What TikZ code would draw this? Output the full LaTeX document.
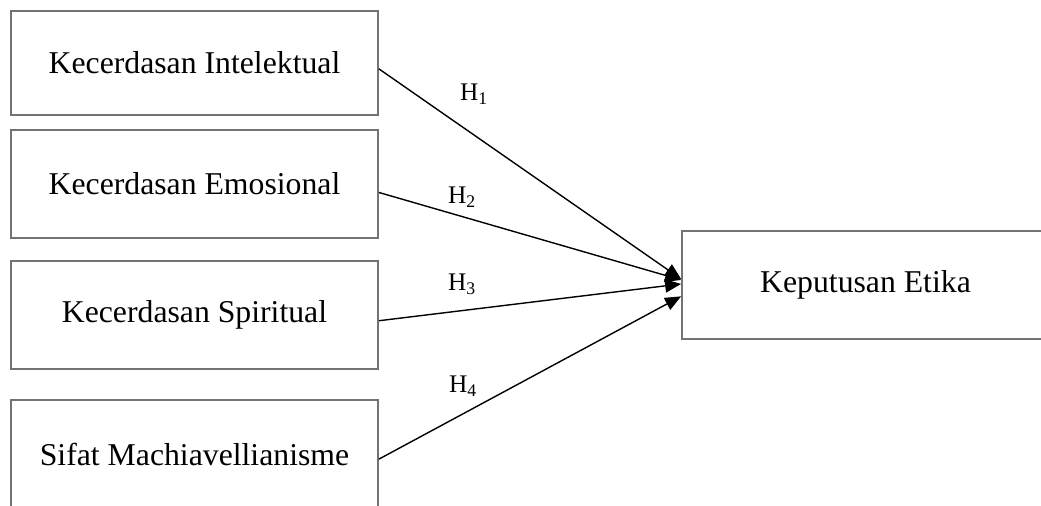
\documentclass[tikz,border=0pt]{standalone}
\usepackage{fontspec}
\setmainfont{Liberation Serif}
\usetikzlibrary{positioning, arrows.meta}

\begin{document}
\begin{tikzpicture}
[
x=0.75pt, y=-0.75pt,
>={Triangle[length=12pt, width=10pt]},
var-box/.style={rectangle, draw=black!55, line width=1.6pt, minimum width=275pt, minimum height=81pt, font=\fontsize{23.8}{28}\selectfont},
hyp-text/.style={font=\fontsize{19}{22}\selectfont},
hyp-line/.style={->, line width=1.05pt}
]
\clip (0,0) rectangle (1041,506);
\node (kec-int)  [var-box, minimum height=78pt]    at (194.5,63) {Kecerdasan Intelektual};
\node (kec-emo)  [var-box, below = 9.5pt of kec-int] {Kecerdasan Emosional};
\node (kec-spi)  [var-box, below = 16pt of kec-emo]  {Kecerdasan Spiritual};
\node (sif-mac)  [var-box, below = 21.5pt of kec-spi] {Sifat Machiavellianisme};
\node (kep-eti)  [var-box]                          at (865.5,285) {Keputusan Etika};
\node (hyp-1)    [hyp-text] at (474,94)  {H\textsubscript{1}};
\node (hyp-2)    [hyp-text] at (462,197) {H\textsubscript{2}};
\node (hyp-3)    [hyp-text] at (462,284) {H\textsubscript{3}};
\node (hyp-4)    [hyp-text] at (463,386) {H\textsubscript{4}};
\draw [hyp-line] ([yshift=-4.4pt]kec-int.east) -- ([yshift=4.5pt]kep-eti.west);
\draw [hyp-line] ([yshift=-6.5pt]kec-emo.east) -- ([yshift=3.8pt]kep-eti.west);
\draw [hyp-line] ([yshift=-4.1pt]kec-spi.east) -- ([yshift=0.8pt]kep-eti.west);
\draw [hyp-line] ([yshift=-3.8pt]sif-mac.east) -- ([yshift=-8.5pt]kep-eti.west);
\end{tikzpicture}
\end{document}
